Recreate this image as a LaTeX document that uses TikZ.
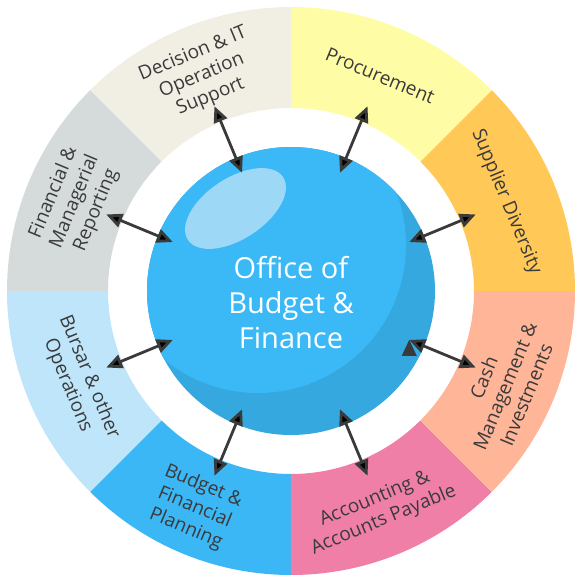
\documentclass[tikz,border=0pt]{standalone}
\usepackage{fontspec}
\setmainfont{Open Sans}
\usepackage{tikz}
\usetikzlibrary{positioning, arrows.meta}
\definecolor{supplierfill}{HTML}{FFC857}
\definecolor{procurefill}{HTML}{FFFCA6}
\definecolor{decisionfill}{HTML}{F1EEE4}
\definecolor{reportfill}{HTML}{D5DBDB}
\definecolor{bursarfill}{HTML}{BEE5FA}
\definecolor{budgetfill}{HTML}{3BB7F6}
\definecolor{accountfill}{HTML}{EF7FA6}
\definecolor{cashfill}{HTML}{FFB598}
\definecolor{hubdark}{HTML}{34A8DF}
\definecolor{hublight}{HTML}{3BB8F6}
\definecolor{shine}{HTML}{9DD9F6}
\definecolor{labelgrey}{HTML}{3A3A3A}

\begin{document}
\begin{tikzpicture}[x=1pt, y=1pt,
  hub node/.style={circle, minimum size=288pt, inner sep=0pt, text=white, align=center,
    font=\fontsize{29}{35}\selectfont},
  ring label/.style={align=center, text=labelgrey, font=\fontsize{19}{23}\selectfont},
  link/.style={{Triangle[length=16pt,width=14pt]}-{Triangle[length=16pt,width=14pt]},
    line width=2.8pt, draw=labelgrey}]

\useasboundingbox (-291,-291) rectangle (291,291);

\fill[supplierfill] (0:183pt) arc (0:45:183pt) -- (45:284pt) arc (45:0:284pt) -- cycle;
\fill[procurefill] (45:183pt) arc (45:90:183pt) -- (90:284pt) arc (90:45:284pt) -- cycle;
\fill[decisionfill] (90:183pt) arc (90:135:183pt) -- (135:284pt) arc (135:90:284pt) -- cycle;
\fill[reportfill] (135:183pt) arc (135:180:183pt) -- (180:284pt) arc (180:135:284pt) -- cycle;
\fill[bursarfill] (180:183pt) arc (180:225:183pt) -- (225:284pt) arc (225:180:284pt) -- cycle;
\fill[budgetfill] (225:183pt) arc (225:270:183pt) -- (270:284pt) arc (270:225:284pt) -- cycle;
\fill[accountfill] (270:183pt) arc (270:315:183pt) -- (315:284pt) arc (315:270:284pt) -- cycle;
\fill[cashfill] (315:183pt) arc (315:360:183pt) -- (360:284pt) arc (360:315:284pt) -- cycle;

\fill[hubdark] (0,0) circle (144pt);
\begin{scope}
  \clip (0,0) circle (144pt);
  \fill[hublight] (-33,46) circle (148pt);
\end{scope}
\fill[shine, rotate around={33.4:(-55.5,82.5)}] (-55.5,82.5) ellipse (57pt and 30.5pt);

\node[hub node] (hub) at (0,-12) {Office of\\Budget \&\\Finance};

\node[ring label, rotate=-67.5] (supplier) at (22.5:233pt) {Supplier Diversity};
\node[ring label, rotate=-22.5] (procure) at (67.5:233pt) {Procurement};
\node[ring label, rotate=22.5] (decision) at (112.5:233pt) {Decision \& IT\\Operation\\Support};
\node[ring label, rotate=67.5] (report) at (157.5:234pt) {Financial \&\\Managerial\\Reporting};
\node[ring label, rotate=-67.5] (bursar) at (203:231pt) {Bursar \& other\\Operations};
\node[ring label, rotate=-22.5] (budget) at (246:237pt) {Budget \&\\Financial\\Planning};
\node[ring label, rotate=22.5] (account) at (292:236pt) {Accounting \&\\Accounts Payable};
\node[ring label, rotate=67.5] (cash) at (336:234pt) {Cash\\Management \&\\Investments};

\coordinate (in1) at (22.5:128pt);  \coordinate (out1) at (22.5:200pt);
\coordinate (in2) at (67.5:128pt);  \coordinate (out2) at (67.5:200pt);
\coordinate (in3) at (112.5:128pt); \coordinate (out3) at (112.5:200pt);
\coordinate (in4) at (157.5:128pt); \coordinate (out4) at (157.5:200pt);
\coordinate (in5) at (202.5:128pt); \coordinate (out5) at (202.5:200pt);
\coordinate (in6) at (247.5:128pt); \coordinate (out6) at (247.5:200pt);
\coordinate (in7) at (292.5:128pt); \coordinate (out7) at (292.5:200pt);
\coordinate (in8) at (337.5:128pt); \coordinate (out8) at (337.5:200pt);

\path[link]
(in1) edge (out1)
(in2) edge (out2)
(in3) edge (out3)
(in4) edge (out4)
(in5) edge (out5)
(in6) edge (out6)
(in7) edge (out7)
(in8) edge (out8)
;
\end{tikzpicture}
\end{document}
